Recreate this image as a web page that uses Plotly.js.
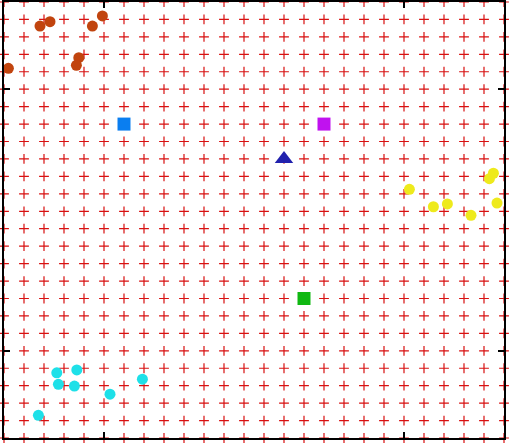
<!DOCTYPE html>
<html>
<head>
<meta charset="utf-8">
<script src="https://cdn.plot.ly/plotly-3.0.1.min.js"></script>
<style>html,body{margin:0;padding:0;background:#fff;}#chart{width:510px;height:446px;}</style>
</head>
<body>
<div id="chart"></div>
<script>
// grid levels (both axes)
const gridLevels = [0,1,2,3,4,5,6,7,8,9,10,11,12,13,14,15,16,17,18,19,20,21,22,23,24,25];
const tickValues = [5, 20];

// point clusters
const orangeX = [1.8, 2.3, 4.42, 4.92, 0.22, 3.74, 3.62];
const orangeY = [23.62, 23.87, 23.62, 24.2, 21.2, 21.81, 21.37];

const cyanX = [2.64, 3.64, 2.72, 3.52, 5.3, 6.92, 1.72];
const cyanY = [3.74, 3.9, 3.08, 2.98, 2.51, 3.37, 1.3];

const yellowX = [20.27, 21.47, 22.17, 23.35, 24.27, 24.47, 24.65];
const yellowY = [14.26, 13.26, 13.42, 12.77, 14.87, 15.18, 13.47];

// single markers
const blueSquare = {x: [6], y: [18]};
const magentaSquare = {x: [16], y: [18]};
const triangle = {x: [14], y: [16]};
const greenSquare = {x: [15], y: [8]};

const gx = [], gy = [];
gridLevels.forEach(xv => gridLevels.forEach(yv => { gx.push(xv); gy.push(yv); }));

const traces = [
  {x: gx, y: gy, type: 'scatter', mode: 'markers', cliponaxis: false,
   marker: {symbol: 'cross-thin', size: 7, line: {color: '#d81010', width: 1.2}}, hoverinfo: 'skip'},
  {x: orangeX, y: orangeY, type: 'scatter', mode: 'markers',
   marker: {symbol: 'circle', size: 11, color: '#c1440e'}},
  {x: cyanX, y: cyanY, type: 'scatter', mode: 'markers',
   marker: {symbol: 'circle', size: 11, color: '#1ee0e8'}},
  {x: yellowX, y: yellowY, type: 'scatter', mode: 'markers',
   marker: {symbol: 'circle', size: 11, color: '#eeea1c'}},
  {x: blueSquare.x, y: blueSquare.y, type: 'scatter', mode: 'markers',
   marker: {symbol: 'square', size: 13, color: '#0a7ef0'}},
  {x: magentaSquare.x, y: magentaSquare.y, type: 'scatter', mode: 'markers',
   marker: {symbol: 'square', size: 13, color: '#c012ef'}},
  {x: triangle.x, y: triangle.y, type: 'scatter', mode: 'markers',
   marker: {symbol: 'triangle-up', size: 16, color: '#2121ad'}},
  {x: greenSquare.x, y: greenSquare.y, type: 'scatter', mode: 'markers',
   marker: {symbol: 'square', size: 13, color: '#10b812'}}
];

const axisCommon = {
  range: [0, 25], showgrid: false, zeroline: false,
  showline: true, linecolor: '#000', linewidth: 2, mirror: 'ticks',
  ticks: 'inside', ticklen: 6, tickwidth: 1.5, tickcolor: '#000',
  tickvals: tickValues, showticklabels: false, fixedrange: true
};

const layout = {
  width: 510, height: 446,
  margin: {l: 4, r: 6, t: 2, b: 8},
  paper_bgcolor: '#fff', plot_bgcolor: '#fff',
  showlegend: false,
  xaxis: Object.assign({}, axisCommon),
  yaxis: Object.assign({}, axisCommon)
};

Plotly.newPlot('chart', traces, layout, {displayModeBar: false, staticPlot: true});
</script>
</body>
</html>
